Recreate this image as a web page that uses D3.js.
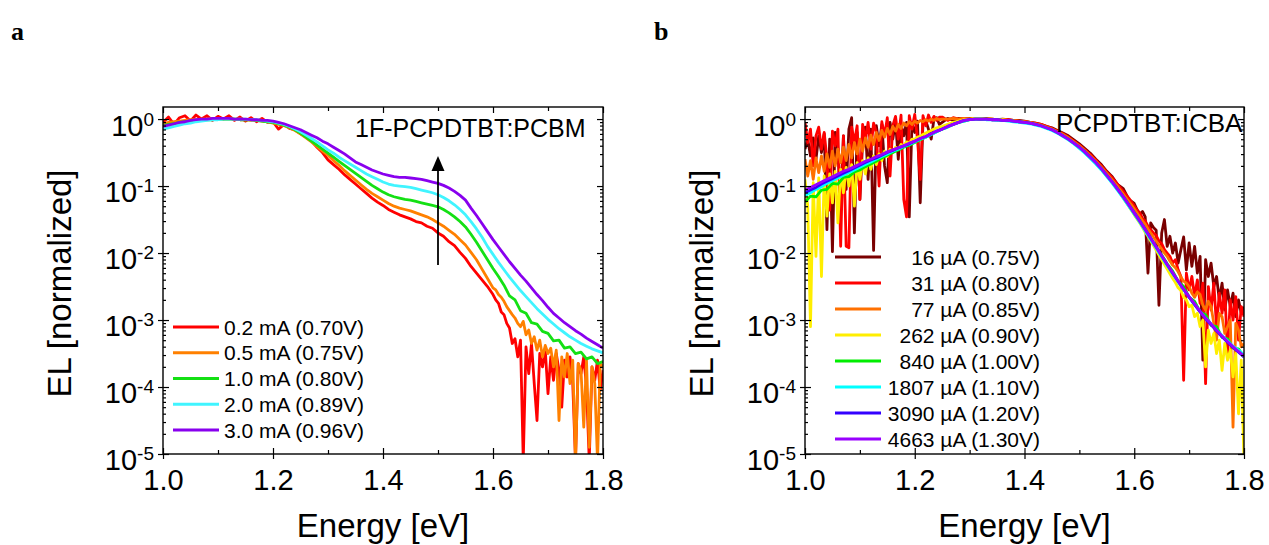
<!DOCTYPE html>
<html>
<head>
<meta charset="utf-8">
<title>EL spectra</title>
<script src="https://cdn.jsdelivr.net/npm/d3@7"></script>
<style>
  body { margin: 0; background: #fff; }
  svg { display: block; font-family: "Liberation Sans", Arial, sans-serif; }
</style>
</head>
<body>
<script>

// Energy grid of the smooth spectra [eV]
var energy = [1.00,1.01,1.02,1.03,1.04,1.05,1.06,1.07,1.08,1.09,
  1.10,1.11,1.12,1.13,1.14,1.15,1.16,1.17,1.18,1.19,
  1.20,1.21,1.22,1.23,1.24,1.25,1.26,1.27,1.28,1.29,
  1.30,1.31,1.32,1.33,1.34,1.35,1.36,1.37,1.38,1.39,
  1.40,1.41,1.42,1.43,1.44,1.45,1.46,1.47,1.48,1.49,
  1.50,1.51,1.52,1.53,1.54,1.55,1.56,1.57,1.58,1.59,
  1.60,1.61,1.62,1.63,1.64,1.65,1.66,1.67,1.68,1.69,
  1.70,1.71,1.72,1.73,1.74,1.75,1.76,1.77,1.78,1.79,
  1.80];

// Finer grid for the noisy tails in panel a
var energyNoisyA = [1.00,1.01,1.02,1.03,1.04,1.05,1.06,1.07,1.08,1.09,
  1.10,1.11,1.12,1.13,1.14,1.15,1.16,1.17,1.18,1.19,
  1.20,1.21,1.22,1.23,1.24,1.25,1.26,1.27,1.28,1.29,
  1.30,1.31,1.32,1.33,1.34,1.35,1.36,1.37,1.38,1.39,
  1.40,1.41,1.42,1.43,1.44,1.45,1.46,1.47,1.48,1.49,
  1.50,1.51,1.52,1.53,1.54,1.55,1.56,1.57,1.58,1.59,
  1.600,1.605,1.610,1.615,1.620,1.625,1.630,1.635,1.640,1.645,
  1.650,1.655,1.660,1.665,1.670,1.675,1.680,1.685,1.690,1.695,
  1.700,1.705,1.710,1.715,1.720,1.725,1.730,1.735,1.740,1.745,
  1.750,1.755,1.760,1.765,1.770,1.775,1.780,1.785,1.790,1.795,
  1.800];

// Finer grid for the noisy spectra in panel b
var energyNoisyB = [1.000,1.005,1.010,1.015,1.020,1.025,1.030,1.035,1.040,1.045,
  1.050,1.055,1.060,1.065,1.070,1.075,1.080,1.085,1.090,1.095,
  1.100,1.105,1.110,1.115,1.120,1.125,1.130,1.135,1.140,1.145,
  1.150,1.155,1.160,1.165,1.170,1.175,1.180,1.185,1.190,1.195,
  1.200,1.205,1.210,1.215,1.220,1.225,1.230,1.235,1.240,1.245,
  1.25,1.26,1.27,1.28,1.29,
  1.30,1.31,1.32,1.33,1.34,1.35,1.36,1.37,1.38,1.39,
  1.40,1.41,1.42,1.43,1.44,1.45,1.46,1.47,1.48,1.49,
  1.50,1.51,1.52,1.53,1.54,1.55,1.56,1.57,1.58,1.59,
  1.600,1.605,1.610,1.615,1.620,1.625,1.630,1.635,1.640,1.645,
  1.650,1.655,1.660,1.665,1.670,1.675,1.680,1.685,1.690,1.695,
  1.700,1.705,1.710,1.715,1.720,1.725,1.730,1.735,1.740,1.745,
  1.750,1.755,1.760,1.765,1.770,1.775,1.780,1.785,1.790,1.795,
  1.800];

// Panel a, 1F-PCPDTBT:PCBM, values are log10(EL normalized)
var pcbm02 = [-0.05,0.03,-0.08,0.02,0.05,-0.03,0.06,0.0,0.05,-0.02,
  0.04,0.0,0.05,-0.02,0.03,-0.03,0.02,-0.04,0.01,-0.05,
  -0.04,-0.15,-0.08,-0.14,-0.16,-0.22,-0.27,-0.33,-0.42,-0.50,
  -0.61,-0.68,-0.75,-0.83,-0.90,-0.97,-1.04,-1.11,-1.18,-1.24,
  -1.29,-1.35,-1.39,-1.43,-1.46,-1.49,-1.53,-1.55,-1.60,-1.63,
  -1.70,-1.75,-1.83,-1.89,-1.99,-2.08,-2.20,-2.30,-2.40,-2.50,
  -2.62,-2.70,-2.75,-2.88,-2.92,-3.05,-3.12,-3.35,-3.28,-3.55,
  -3.30,-5.10,-3.40,-3.80,-3.35,-3.95,-4.50,-3.50,-3.70,-3.45,
  -4.10,-3.55,-3.90,-3.50,-3.75,-4.30,-3.60,-3.85,-3.55,-3.95,
  -5.10,-3.65,-3.80,-3.55,-4.00,-5.10,-3.70,-3.90,-3.60,-4.05,
  -3.75];
var pcbm05 = [-0.07,-0.05,-0.04,-0.03,-0.02,-0.01,-0.01,0.0,0.0,0.01,
  0.01,0.0,0.0,0.0,-0.01,-0.01,-0.02,-0.02,-0.03,-0.04,
  -0.06,-0.08,-0.10,-0.13,-0.17,-0.22,-0.28,-0.34,-0.41,-0.48,
  -0.54,-0.62,-0.69,-0.77,-0.84,-0.91,-0.98,-1.05,-1.11,-1.16,
  -1.21,-1.26,-1.30,-1.33,-1.35,-1.37,-1.40,-1.43,-1.46,-1.50,
  -1.55,-1.60,-1.66,-1.72,-1.80,-1.88,-1.99,-2.10,-2.24,-2.38,
  -2.52,-2.55,-2.62,-2.66,-2.72,-2.80,-2.86,-2.92,-2.97,-3.05,
  -3.10,-3.02,-3.22,-3.15,-3.35,-3.25,-3.45,-3.30,-3.55,-3.38,
  -3.50,-3.42,-3.70,-3.45,-4.50,-3.55,-3.85,-3.50,-3.95,-3.60,
  -5.10,-3.65,-3.75,-4.60,-3.60,-4.90,-3.70,-3.95,-5.10,-3.65,
  -3.70];
var pcbm10 = [-0.10,-0.08,-0.07,-0.05,-0.04,-0.03,-0.02,-0.02,-0.01,-0.01,
  0.0,0.0,0.0,0.0,-0.01,-0.01,-0.01,-0.02,-0.03,-0.04,
  -0.05,-0.07,-0.09,-0.12,-0.16,-0.21,-0.27,-0.33,-0.39,-0.45,
  -0.51,-0.57,-0.63,-0.69,-0.75,-0.81,-0.87,-0.93,-0.99,-1.04,
  -1.09,-1.13,-1.16,-1.18,-1.20,-1.21,-1.23,-1.25,-1.27,-1.29,
  -1.31,-1.35,-1.40,-1.46,-1.53,-1.61,-1.72,-1.84,-1.97,-2.10,
  -2.23,-2.35,-2.48,-2.64,-2.70,-2.86,-2.90,-3.04,-3.06,-3.17,
  -3.20,-3.31,-3.30,-3.42,-3.40,-3.50,-3.48,-3.58,-3.55,-3.65,
  -3.62];
var pcbm20 = [-0.15,-0.13,-0.11,-0.09,-0.07,-0.06,-0.04,-0.03,-0.02,-0.01,
  -0.01,0.0,0.0,0.0,0.0,0.0,-0.01,-0.01,-0.02,-0.03,
  -0.04,-0.06,-0.08,-0.11,-0.15,-0.19,-0.24,-0.29,-0.34,-0.40,
  -0.46,-0.51,-0.57,-0.62,-0.67,-0.72,-0.77,-0.82,-0.86,-0.90,
  -0.94,-0.97,-0.99,-1.00,-1.01,-1.02,-1.04,-1.06,-1.08,-1.10,
  -1.13,-1.17,-1.22,-1.28,-1.35,-1.43,-1.53,-1.64,-1.76,-1.90,
  -2.02,-2.14,-2.25,-2.36,-2.46,-2.56,-2.65,-2.74,-2.83,-2.91,
  -2.99,-3.06,-3.13,-3.19,-3.25,-3.30,-3.35,-3.39,-3.43,-3.46,
  -3.49];
var pcbm30 = [-0.11,-0.09,-0.07,-0.05,-0.04,-0.02,-0.01,0.0,0.0,0.01,
  0.01,0.01,0.01,0.0,0.0,0.0,-0.01,-0.01,-0.02,-0.02,
  -0.03,-0.05,-0.07,-0.10,-0.13,-0.16,-0.20,-0.24,-0.28,-0.33,
  -0.37,-0.42,-0.47,-0.52,-0.58,-0.64,-0.68,-0.72,-0.76,-0.79,
  -0.82,-0.84,-0.86,-0.87,-0.87,-0.88,-0.89,-0.90,-0.92,-0.94,
  -0.96,-0.99,-1.03,-1.08,-1.14,-1.21,-1.33,-1.44,-1.56,-1.68,
  -1.80,-1.91,-2.02,-2.13,-2.23,-2.33,-2.42,-2.52,-2.62,-2.71,
  -2.81,-2.90,-2.97,-3.04,-3.10,-3.16,-3.21,-3.27,-3.32,-3.37,
  -3.42];
var labelsA = ["0.2 mA (0.70V)", "0.5 mA (0.75V)", "1.0 mA (0.80V)", "2.0 mA (0.89V)", "3.0 mA (0.96V)"];
var colorsA = ["#ff0000", "#ff8000", "#14e014", "#40f4ff", "#8800ee"];

// Panel b, PCPDTBT:ICBA, values are log10(EL normalized)
var icba16 = [-0.45,-0.30,-0.55,-0.28,-0.60,-0.25,-0.50,-0.22,-1.65,-0.30,
  -1.98,-0.20,-0.45,-1.30,-0.25,-1.05,-0.15,0.02,-1.70,-0.20,
  -1.20,-0.35,-0.12,-0.90,-0.15,-1.96,-0.10,-0.40,-0.08,-0.70,
  -0.95,-0.05,-0.30,-0.04,-0.60,-0.08,-0.25,-0.05,-1.46,-0.06,
  -0.20,-0.03,-1.25,-0.05,-0.02,-0.15,-0.30,0.0,0.02,-0.08,
  -0.05,0.01,-0.02,0.01,0.0,
  0.01,0.01,0.0,0.01,0.0,-0.01,0.0,-0.01,-0.02,-0.02,
  -0.03,-0.05,-0.06,-0.08,-0.11,-0.13,-0.17,-0.21,-0.25,-0.31,
  -0.37,-0.44,-0.51,-0.60,-0.68,-0.78,-0.86,-0.98,-1.04,-1.20,
  -1.26,-1.35,-1.42,-1.38,-1.46,-2.30,-1.55,-1.62,-1.66,-2.78,
  -1.70,-1.50,-1.90,-1.75,-2.00,-1.85,-2.15,-1.95,-1.76,-2.25,
  -1.85,-2.20,-1.90,-2.30,-2.05,-3.60,-2.10,-2.35,-2.15,-2.50,
  -2.35,-2.70,-2.45,-2.85,-2.55,-2.80,-2.60,-2.95,-2.70,-2.90,
  -2.80];
var icba31 = [-0.05,-0.35,-0.15,-0.70,-0.25,-0.12,-0.45,-0.20,-0.60,-1.36,
  -0.18,-0.40,-0.15,-1.90,-0.25,-1.90,-1.92,-0.12,-0.35,-0.10,
  -1.20,-0.08,-0.30,-0.05,-0.45,-0.06,-0.20,-1.00,-0.04,-0.25,
  0.02,-0.85,-0.10,0.04,-0.30,0.06,-1.20,-1.46,0.05,-0.15,
  0.07,-0.30,-0.90,0.05,-0.10,0.06,-0.05,0.04,-0.02,0.03,
  0.03,-0.02,0.02,0.0,0.01,
  0.0,0.01,0.0,0.0,0.0,-0.01,-0.01,-0.01,-0.02,-0.03,
  -0.04,-0.05,-0.06,-0.08,-0.11,-0.14,-0.18,-0.22,-0.27,-0.33,
  -0.39,-0.46,-0.53,-0.61,-0.70,-0.79,-0.88,-0.98,-1.08,-1.18,
  -1.30,-1.36,-1.40,-1.48,-1.52,-1.60,-1.65,-1.70,-1.74,-1.82,
  -1.86,-1.95,-2.00,-2.05,-2.15,-2.10,-2.25,-2.35,-3.90,-2.30,
  -2.55,-2.35,-2.65,-2.40,-2.75,-2.45,-3.95,-2.50,-2.85,-2.45,
  -3.10,-2.60,-2.90,-2.55,-3.50,-2.70,-3.00,-2.65,-3.30,-2.80,
  -2.95];
var icba77 = [-0.60,-0.85,-0.62,-0.90,-0.58,-0.80,-0.55,-0.78,-0.52,-0.72,
  -0.48,-0.70,-0.45,-0.65,-0.42,-0.62,-0.38,-0.58,-0.35,-0.52,
  -0.30,-0.48,-0.28,-0.42,-0.24,-0.38,-0.20,-0.32,-0.17,-0.27,
  -0.14,-0.23,-0.11,-0.18,-0.08,-0.14,-0.06,-0.10,-0.04,-0.08,
  -0.03,-0.06,-0.02,-0.04,-0.01,-0.03,0.0,-0.02,0.01,-0.01,
  0.0,0.0,0.01,0.0,0.01,
  0.0,0.01,0.0,0.0,0.0,-0.01,-0.01,-0.02,-0.02,-0.03,
  -0.04,-0.05,-0.07,-0.09,-0.12,-0.15,-0.19,-0.23,-0.28,-0.34,
  -0.40,-0.47,-0.55,-0.63,-0.72,-0.81,-0.91,-1.01,-1.12,-1.23,
  -1.34,-1.40,-1.46,-1.52,-1.57,-1.64,-1.70,-1.76,-1.82,-1.88,
  -1.94,-2.00,-2.05,-2.12,-2.18,-2.22,-2.28,-2.36,-2.42,-2.45,
  -2.50,-2.60,-2.66,-2.58,-2.62,-2.78,-2.85,-2.72,-2.80,-3.05,
  -3.30,-2.90,-2.95,-3.20,-3.10,-3.00,-4.60,-3.05,-3.15,-3.40,
  -3.35];
var icba262 = [-0.90,-1.30,-3.10,-0.95,-2.05,-0.88,-2.35,-0.85,-1.45,-0.82,
  -1.25,-0.78,-1.55,-0.75,-1.10,-0.72,-1.00,-0.68,-1.30,-0.65,
  -0.90,-0.62,-0.82,-0.58,-0.75,-0.55,-0.68,-0.52,-0.62,-0.48,
  -0.56,-0.45,-0.50,-0.42,-0.45,-0.38,-0.40,-0.34,-0.36,-0.30,
  -0.30,-0.27,-0.26,-0.23,-0.21,-0.19,-0.17,-0.15,-0.13,-0.12,
  -0.11,-0.08,-0.05,-0.03,-0.01,
  0.0,0.01,0.01,0.0,0.0,-0.01,-0.01,-0.02,-0.03,-0.04,
  -0.05,-0.06,-0.08,-0.10,-0.13,-0.16,-0.20,-0.25,-0.30,-0.36,
  -0.43,-0.50,-0.58,-0.66,-0.75,-0.85,-0.95,-1.06,-1.18,-1.30,
  -1.43,-1.49,-1.55,-1.62,-1.69,-1.75,-1.82,-1.89,-1.96,-2.03,
  -2.10,-2.17,-2.24,-2.31,-2.38,-2.44,-2.52,-2.56,-2.66,-2.70,
  -2.80,-2.78,-2.95,-2.90,-3.10,-3.00,-3.70,-3.15,-3.35,-3.20,
  -3.50,-3.30,-3.75,-3.35,-3.60,-3.45,-3.85,-3.50,-4.40,-3.60,
  -5.10];
var icba840 = [-1.24,-1.15,-1.16,-1.06,-1.05,-0.96,-0.97,-0.87,-0.86,-0.79,
  -0.76,-0.71,-0.67,-0.63,-0.58,-0.54,-0.50,-0.46,-0.42,-0.39,
  -0.35,-0.31,-0.27,-0.23,-0.19,-0.15,-0.12,-0.08,-0.05,-0.03,
  -0.01,0.0,0.0,0.0,-0.01,-0.01,-0.02,-0.02,-0.03,-0.04,
  -0.05,-0.06,-0.08,-0.10,-0.13,-0.16,-0.20,-0.25,-0.30,-0.36,
  -0.42,-0.49,-0.57,-0.65,-0.74,-0.84,-0.94,-1.05,-1.16,-1.28,
  -1.40,-1.52,-1.65,-1.78,-1.91,-2.03,-2.16,-2.27,-2.42,-2.50,
  -2.66,-2.72,-2.88,-2.92,-3.08,-3.10,-3.26,-3.28,-3.42,-3.43,
  -3.55];
var icba1807 = [-1.14,-1.10,-1.05,-1.01,-0.96,-0.92,-0.88,-0.84,-0.80,-0.76,
  -0.72,-0.68,-0.64,-0.60,-0.56,-0.52,-0.48,-0.45,-0.41,-0.38,
  -0.34,-0.30,-0.27,-0.23,-0.19,-0.15,-0.12,-0.08,-0.05,-0.03,
  -0.01,0.0,0.0,-0.01,-0.01,-0.02,-0.02,-0.03,-0.04,-0.05,
  -0.06,-0.07,-0.09,-0.11,-0.14,-0.17,-0.21,-0.26,-0.31,-0.37,
  -0.44,-0.51,-0.59,-0.67,-0.76,-0.86,-0.96,-1.07,-1.18,-1.30,
  -1.42,-1.54,-1.67,-1.80,-1.93,-2.06,-2.19,-2.31,-2.43,-2.55,
  -2.66,-2.77,-2.87,-2.97,-3.06,-3.15,-3.23,-3.31,-3.39,-3.45,
  -3.52];
var icba3090 = [-1.10,-1.06,-1.02,-0.97,-0.93,-0.89,-0.85,-0.81,-0.77,-0.73,
  -0.69,-0.65,-0.61,-0.58,-0.54,-0.50,-0.47,-0.43,-0.40,-0.37,
  -0.33,-0.29,-0.26,-0.22,-0.18,-0.15,-0.11,-0.08,-0.05,-0.02,
  -0.01,0.0,0.0,0.0,-0.01,-0.01,-0.02,-0.02,-0.03,-0.04,
  -0.05,-0.06,-0.08,-0.10,-0.13,-0.16,-0.20,-0.25,-0.30,-0.36,
  -0.42,-0.49,-0.57,-0.65,-0.74,-0.84,-0.94,-1.05,-1.16,-1.28,
  -1.40,-1.52,-1.65,-1.78,-1.91,-2.04,-2.17,-2.30,-2.42,-2.54,
  -2.66,-2.77,-2.88,-2.98,-3.07,-3.16,-3.25,-3.33,-3.41,-3.48,
  -3.55];
var icba4663 = [-1.06,-1.02,-0.98,-0.94,-0.90,-0.86,-0.82,-0.78,-0.75,-0.71,
  -0.67,-0.63,-0.60,-0.56,-0.53,-0.49,-0.46,-0.43,-0.40,-0.36,
  -0.33,-0.29,-0.26,-0.22,-0.18,-0.15,-0.11,-0.08,-0.05,-0.02,
  -0.01,0.0,0.0,0.0,-0.01,-0.01,-0.02,-0.02,-0.03,-0.04,
  -0.05,-0.06,-0.08,-0.10,-0.13,-0.16,-0.20,-0.25,-0.30,-0.36,
  -0.42,-0.49,-0.57,-0.65,-0.74,-0.84,-0.94,-1.05,-1.16,-1.28,
  -1.40,-1.52,-1.65,-1.78,-1.91,-2.04,-2.17,-2.29,-2.42,-2.54,
  -2.65,-2.76,-2.87,-2.97,-3.06,-3.15,-3.24,-3.32,-3.40,-3.47,
  -3.54];
var labelsB = ["16 \u00b5A (0.75V)", "31 \u00b5A (0.80V)", "77 \u00b5A (0.85V)", "262 \u00b5A (0.90V)",
  "840 \u00b5A (1.00V)", "1807 \u00b5A (1.10V)", "3090 \u00b5A (1.20V)", "4663 \u00b5A (1.30V)"];
var colorsB = ["#7a0000", "#ff0000", "#ff7000", "#ffee00", "#00ee00", "#00ffff", "#3300ff", "#9900ff"];

// Axis ticks
var xMajor = [1.0, 1.2, 1.4, 1.6, 1.8];
var xMinor = [1.1, 1.3, 1.5, 1.7];
var yMajor = [1e-5, 1e-4, 1e-3, 1e-2, 1e-1, 1];
var yMinor = [];
yMajor.slice(0, 5).forEach(function(p) {
  [2, 3, 4, 5, 6, 7, 8, 9].forEach(function(m) { yMinor.push(p * m); });
});

// Arrow in panel a: energy and the two ends (log10)
var arrowA = {energy: 1.5, from: -2.18, to: -0.55};

var svg = d3.select("body").append("svg")
  .attr("width", 1269)
  .attr("height", 545);

function drawPanel(opts) {
  var x = d3.scaleLinear().domain([1.0, 1.8]).range([opts.left, opts.right]);
  var y = d3.scaleLog().domain([1e-5, Math.pow(10, 0.18)]).range([opts.bottom, opts.top]);
  var g = svg.append("g");

  // Clip the spectra to the frame
  g.append("clipPath").attr("id", opts.id + "-clip")
    .append("rect")
    .attr("x", opts.left).attr("y", opts.top)
    .attr("width", opts.right - opts.left).attr("height", opts.bottom - opts.top);

  g.append("g").attr("clip-path", "url(#" + opts.id + "-clip)")
    .selectAll("path")
    .data(opts.series)
    .enter()
    .append("path")
    .attr("d", function(s) {
      return d3.line()
        .x(function(d, i) { return x(s.e[i]); })
        .y(function(d) { return y(Math.pow(10, d)); })(s.v);
    })
    .attr("fill", "none")
    .attr("stroke", function(d, i) { return opts.colors[i]; })
    .attr("stroke-width", 2.8)
    .attr("stroke-linejoin", "round");

  function noDomain(sel) { sel.select(".domain").remove(); }

  // Bottom axis: labels with outward major ticks, inward ticks
  g.append("g").attr("transform", "translate(0," + opts.bottom + ")")
    .call(d3.axisBottom(x).tickValues(xMajor).tickSize(5).tickPadding(10).tickFormat(d3.format(".1f")))
    .call(noDomain);
  g.append("g").attr("transform", "translate(0," + opts.bottom + ")")
    .call(d3.axisTop(x).tickValues(xMajor).tickSize(6).tickFormat("")).call(noDomain);
  g.append("g").attr("transform", "translate(0," + opts.bottom + ")")
    .call(d3.axisTop(x).tickValues(xMinor).tickSize(4).tickFormat("")).call(noDomain);

  // Top axis, inward ticks
  g.append("g").attr("transform", "translate(0," + opts.top + ")")
    .call(d3.axisBottom(x).tickValues(xMajor).tickSize(6).tickFormat("")).call(noDomain);
  g.append("g").attr("transform", "translate(0," + opts.top + ")")
    .call(d3.axisBottom(x).tickValues(xMinor).tickSize(4).tickFormat("")).call(noDomain);

  // Left axis: labels 10^n
  var gy = g.append("g").attr("transform", "translate(" + opts.left + ",0)")
    .call(d3.axisLeft(y).tickValues(yMajor).tickSize(5).tickPadding(4))
    .call(noDomain);
  gy.selectAll(".tick text").each(function(d) {
    var t = d3.select(this).text("").attr("dy", "0.55em");
    t.append("tspan").text("10");
    t.append("tspan").attr("dy", -10).style("font-size", "19px").text(String(Math.round(Math.log10(d))));
  });
  g.append("g").attr("transform", "translate(" + opts.left + ",0)")
    .call(d3.axisRight(y).tickValues(yMajor).tickSize(6).tickFormat("")).call(noDomain);
  g.append("g").attr("transform", "translate(" + opts.left + ",0)")
    .call(d3.axisRight(y).tickValues(yMinor).tickSize(3).tickFormat("")).call(noDomain);

  // Right axis, inward ticks
  g.append("g").attr("transform", "translate(" + opts.right + ",0)")
    .call(d3.axisLeft(y).tickValues(yMajor).tickSize(6).tickFormat("")).call(noDomain);
  g.append("g").attr("transform", "translate(" + opts.right + ",0)")
    .call(d3.axisLeft(y).tickValues(yMinor).tickSize(3).tickFormat("")).call(noDomain);

  g.selectAll(".tick line").attr("stroke", "#000").attr("stroke-width", 1.2);
  g.selectAll(".tick text")
    .attr("fill", "#000")
    .style("font-family", "'Liberation Sans', Arial, sans-serif")
    .style("font-size", "29px");

  // Frame
  g.append("rect")
    .attr("x", opts.left).attr("y", opts.top)
    .attr("width", opts.right - opts.left).attr("height", opts.bottom - opts.top)
    .attr("fill", "none").attr("stroke", "#000").attr("stroke-width", 1.4);

  // Axis titles
  g.append("text")
    .attr("x", (opts.left + opts.right) / 2)
    .attr("y", 537)
    .attr("text-anchor", "middle")
    .style("font-size", "33px")
    .text("Energy [eV]");
  g.append("text")
    .attr("transform", "translate(" + (opts.left - 92) + "," + ((opts.top + opts.bottom) / 2 + 3) + ") rotate(-90)")
    .attr("text-anchor", "middle")
    .style("font-size", "33px")
    .text("EL [normalized]");

  // Sample name
  g.append("text")
    .attr("x", opts.titleX).attr("y", opts.titleY)
    .style("font-size", opts.titleSize)
    .text(opts.title);

  // Panel letter
  g.append("text")
    .attr("x", opts.letterX).attr("y", 40)
    .style("font-family", "'Liberation Serif', 'Times New Roman', serif")
    .style("font-weight", "bold")
    .style("font-size", "26px")
    .text(opts.letter);

  // Legend
  var leg = g.append("g");
  opts.labels.forEach(function(lab, i) {
    var ly = opts.legendY + i * opts.legendStep;
    leg.append("line")
      .attr("x1", opts.legendX).attr("x2", opts.legendX + 46)
      .attr("y1", ly).attr("y2", ly)
      .attr("stroke", opts.colors[i]).attr("stroke-width", 3);
    leg.append("text")
      .attr("x", opts.legendTextX).attr("y", ly + 7.5)
      .attr("text-anchor", opts.legendAnchor)
      .style("font-size", "21px")
      .text(lab);
  });

  return {x: x, y: y, g: g};
}

// Panel a
var pa = drawPanel({
  id: "a", left: 163, right: 603, top: 107, bottom: 454,
  series: [
    {e: energyNoisyA, v: pcbm02},
    {e: energyNoisyA, v: pcbm05},
    {e: energy, v: pcbm10},
    {e: energy, v: pcbm20},
    {e: energy, v: pcbm30}
  ],
  colors: colorsA, labels: labelsA,
  title: "1F-PCPDTBT:PCBM", titleX: 355, titleY: 137, titleSize: "25px",
  letter: "a", letterX: 11,
  legendX: 173, legendY: 327, legendStep: 25.75, legendTextX: 224, legendAnchor: "start"
});

// Arrow marking increasing current
var ax = pa.x(arrowA.energy);
var yFrom = pa.y(Math.pow(10, arrowA.from));
var yTo = pa.y(Math.pow(10, arrowA.to));
pa.g.append("line")
  .attr("x1", ax).attr("x2", ax)
  .attr("y1", yFrom).attr("y2", yTo + 14)
  .attr("stroke", "#000").attr("stroke-width", 1.8);
pa.g.append("path")
  .attr("d", "M" + ax + "," + yTo + "L" + (ax - 6.5) + "," + (yTo + 15) + "L" + (ax + 6.5) + "," + (yTo + 15) + "Z")
  .attr("fill", "#000");

// Panel b
drawPanel({
  id: "b", left: 805, right: 1244, top: 107, bottom: 454,
  series: [
    {e: energyNoisyB, v: icba16},
    {e: energyNoisyB, v: icba31},
    {e: energyNoisyB, v: icba77},
    {e: energyNoisyB, v: icba262},
    {e: energy, v: icba840},
    {e: energy, v: icba1807},
    {e: energy, v: icba3090},
    {e: energy, v: icba4663}
  ],
  colors: colorsB, labels: labelsB,
  title: "PCPDTBT:ICBA", titleX: 1056, titleY: 132, titleSize: "26px",
  letter: "b", letterX: 654,
  legendX: 835, legendY: 257, legendStep: 26, legendTextX: 1040, legendAnchor: "end"
});

</script>
</body>
</html>
